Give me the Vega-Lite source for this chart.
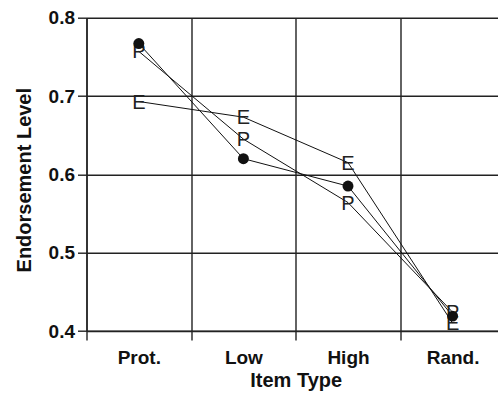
{
  "$schema": "https://vega.github.io/schema/vega-lite/v6.json",
  "autosize": "none",
  "padding": {"left": 86.5, "top": 17.7, "right": 0, "bottom": 62},
  "width": 411.5,
  "height": 313.3,
  "config": {
    "view": {"stroke": null},
    "font": "Liberation Sans",
    "axis": {
      "labelFont": "Liberation Sans",
      "labelFontWeight": "bold",
      "labelFontSize": 19,
      "labelColor": "#111",
      "titleFont": "Liberation Sans",
      "titleFontWeight": "bold",
      "titleFontSize": 20,
      "titleColor": "#111",
      "gridColor": "#222",
      "gridOpacity": 1,
      "gridWidth": 1.4,
      "domainColor": "#222",
      "domainWidth": 1.4,
      "tickColor": "#222",
      "tickWidth": 1.4,
      "tickSize": 9
    }
  },
  "data": {
    "values": [
      {"type": "Prot.", "series": "dot", "level": 0.767},
      {"type": "Low", "series": "dot", "level": 0.620},
      {"type": "High", "series": "dot", "level": 0.585},
      {"type": "Rand.", "series": "dot", "level": 0.419},
      {"type": "Prot.", "series": "P", "level": 0.757},
      {"type": "Low", "series": "P", "level": 0.645},
      {"type": "High", "series": "P", "level": 0.564},
      {"type": "Rand.", "series": "P", "level": 0.424},
      {"type": "Prot.", "series": "E", "level": 0.693},
      {"type": "Low", "series": "E", "level": 0.673},
      {"type": "High", "series": "E", "level": 0.615},
      {"type": "Rand.", "series": "E", "level": 0.410}
    ]
  },
  "encoding": {
    "x": {
      "field": "type",
      "type": "nominal",
      "sort": ["Prot.", "Low", "High", "Rand."],
      "scale": {"type": "band", "paddingInner": 0, "paddingOuter": 0, "range": [0, 418.4]},
      "axis": {
        "title": "Item Type",
        "labelAngle": 0,
        "tickBand": "extent",
        "grid": true,
        "labelPadding": 8,
        "titlePadding": 3,
        "titleX": 209.2
      }
    },
    "y": {
      "field": "level",
      "type": "quantitative",
      "scale": {"domain": [0.4, 0.8], "nice": false, "zero": false},
      "axis": {
        "title": "Endorsement Level",
        "values": [0.4, 0.5, 0.6, 0.7, 0.8],
        "format": ".1f",
        "grid": true,
        "labelPadding": 3,
        "titlePadding": 14,
        "titleY": 162
      }
    }
  },
  "layer": [
    {
      "mark": {"type": "line", "color": "#111", "strokeWidth": 1},
      "encoding": {"detail": {"field": "series"}}
    },
    {
      "transform": [{"filter": "datum.series !== 'dot'"}],
      "mark": {"type": "text", "font": "Liberation Sans", "fontSize": 20, "color": "#222", "align": "center", "baseline": "middle", "dy": 1},
      "encoding": {"text": {"field": "series"}}
    },
    {
      "transform": [{"filter": "datum.series === 'dot'"}],
      "mark": {"type": "point", "filled": true, "shape": "circle", "size": 120, "color": "#111", "opacity": 1}
    }
  ]
}
